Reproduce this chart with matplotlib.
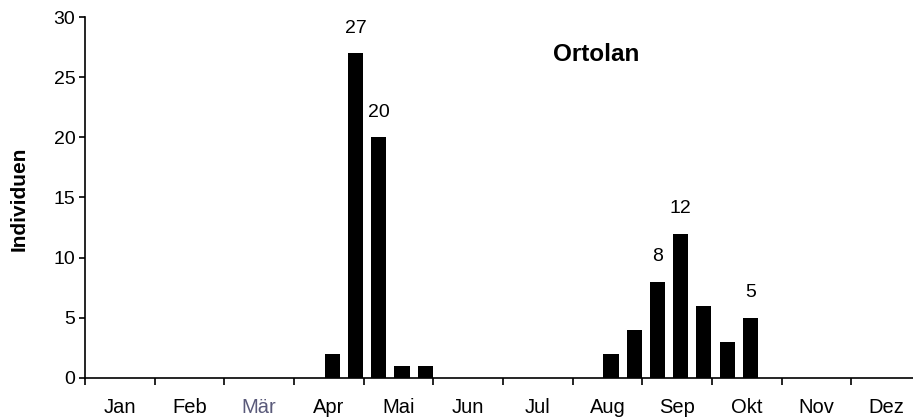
import numpy as np
import matplotlib
matplotlib.use("Agg")
import matplotlib.pyplot as plt

plt.rcParams["font.family"] = ["Liberation Sans", "DejaVu Sans"]

# Monatsnamen und Dekaden-Werte (3 Dekaden pro Monat)
months = ["Jan", "Feb", "Mär", "Apr", "Mai", "Jun", "Jul", "Aug", "Sep", "Okt", "Nov", "Dez"]
jan = [0, 0, 0]
feb = [0, 0, 0]
mar = [0, 0, 0]
apr = [0, 2, 27]
mai = [20, 1, 1]
jun = [0, 0, 0]
jul = [0, 0, 0]
aug = [0, 2, 4]
sep = [8, 12, 6]
okt = [3, 5, 0]
nov = [0, 0, 0]
dez = [0, 0, 0]
counts = jan + feb + mar + apr + mai + jun + jul + aug + sep + okt + nov + dez

# Dekaden mit Wertbeschriftung
labelled = [11, 12, 25, 24, 28]

title = "Ortolan"
ylabel = "Individuen"

W, H = 913, 419
fig = plt.figure(figsize=(W / 100, H / 100), dpi=100)
ax = fig.add_axes([85 / W, 1 - 377.7 / H, (921 - 85) / W, (377.7 - 17.3) / H])

x = np.arange(len(counts)) + 0.5 + 0.15
ax.bar(x, counts, width=0.65, color="black", linewidth=0)

for i in labelled:
    ax.annotate(str(counts[i]), (x[i], counts[i]), xytext=(0, 14.5),
                textcoords="offset points", ha="center", va="baseline", fontsize=14)

ax.set_xlim(0, 36)
ax.set_ylim(0, 30)
ax.set_yticks(np.arange(0, 31, 5))
ax.set_xticks(np.arange(0, 37, 3))
ax.set_xticklabels([])
ax.set_xticks(np.arange(1.5, 36, 3), minor=True)
ax.set_xticklabels(months, minor=True)
ax.tick_params(axis="x", which="major", length=5, width=1.2, direction="out")
ax.tick_params(axis="x", which="minor", length=0, pad=14.5, labelsize=14.5)
ax.tick_params(axis="y", length=4, width=1.2, direction="out", labelsize=14, pad=3)
for lbl in ax.get_xticklabels(minor=True):
    if lbl.get_text() == "Mär":
        lbl.set_color("#5a5a7a")

for s in ["top", "right"]:
    ax.spines[s].set_visible(False)
for s in ["left", "bottom"]:
    ax.spines[s].set_linewidth(1.2)

ax.text(22.0, 26.9, title, ha="center", va="center", fontsize=17.5, fontweight="bold")
fig.text(19 / W, 1 - 199 / H, ylabel, rotation=90, ha="center", va="center",
         fontsize=15, fontweight="bold")

fig.savefig("out.png", dpi=100)
